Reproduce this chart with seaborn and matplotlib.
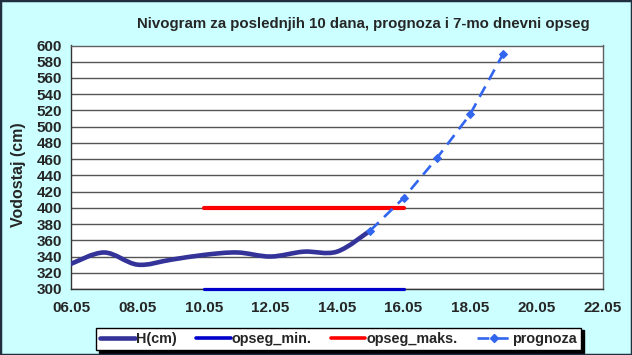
import numpy as np
import pandas as pd
import matplotlib
matplotlib.use("Agg")
import matplotlib.pyplot as plt
import matplotlib.dates as mdates
from matplotlib.path import Path
from matplotlib.patches import PathPatch, Rectangle
from matplotlib.lines import Line2D
import seaborn as sns

YEAR = 2010
h_dates = ["06.05", "07.05", "08.05", "09.05", "10.05", "11.05", "12.05", "13.05", "14.05", "15.05"]
h_values = [331, 345, 330, 336, 342, 345, 340, 346, 346, 372]

range_dates = ["10.05", "16.05"]
range_min = [300, 300]
range_max = [400, 400]

prog_dates = ["15.05", "16.05", "17.05", "18.05", "19.05"]
prog_values = [372, 412, 461, 515, 590]

title = "Nivogram za poslednjih 10 dana, prognoza i 7-mo dnevni opseg"
ylabel = "Vodostaj (cm)"
labels = ["H(cm)", "opseg_min.", "opseg_maks.", "prognoza"]


def to_dt(lst):
    return pd.to_datetime([f"{d}.{YEAR}" for d in lst], format="%d.%m.%Y")


df_h = pd.DataFrame({"date": to_dt(h_dates), "v": h_values})
df_min = pd.DataFrame({"date": to_dt(range_dates), "v": range_min})
df_max = pd.DataFrame({"date": to_dt(range_dates), "v": range_max})
df_p = pd.DataFrame({"date": to_dt(prog_dates), "v": prog_values})

sns.set_style("white")
plt.rcParams["font.family"] = ["Liberation Sans", "DejaVu Sans"]
plt.rcParams["font.weight"] = "bold"

BG = "#ccffff"
fig = plt.figure(figsize=(6.32, 3.55), dpi=100, facecolor=BG)
ax = fig.add_axes([71 / 632, 1 - 289 / 355, (603 - 71) / 632, (289 - 45.5) / 355])
ax.set_facecolor("white")

C_H = "#333399"
C_MIN = "#0000cc"
C_MAX = "#ff0000"
C_P = "#3366ee"

# H(cm) drawn as Excel-style smoothed curve (Bezier through the data points)
xs = mdates.date2num(df_h["date"])
ys = np.asarray(df_h["v"], dtype=float)
n = len(xs)
verts = [(xs[0], ys[0])]
codes = [Path.MOVETO]
for i in range(n - 1):
    xp, yp = (xs[i - 1], ys[i - 1]) if i > 0 else (xs[i], ys[i])
    xn2, yn2 = (xs[i + 2], ys[i + 2]) if i + 2 < n else (xs[i + 1], ys[i + 1])
    c1 = (xs[i] + (xs[i + 1] - xp) / 6, ys[i] + (ys[i + 1] - yp) / 6)
    c2 = (xs[i + 1] - (xn2 - xs[i]) / 6, ys[i + 1] - (yn2 - ys[i]) / 6)
    verts += [c1, c2, (xs[i + 1], ys[i + 1])]
    codes += [Path.CURVE4] * 3
patch = PathPatch(Path(verts, codes), fill=False, edgecolor=C_H, lw=3.3,
                  transform=ax.transData, zorder=3, capstyle="round", joinstyle="round")
ax.add_patch(patch)

sns.lineplot(data=df_min, x="date", y="v", ax=ax, color=C_MIN, lw=2.3, zorder=4, clip_on=False)
sns.lineplot(data=df_max, x="date", y="v", ax=ax, color=C_MAX, lw=3.0, zorder=3)
sns.lineplot(data=df_p, x="date", y="v", ax=ax, color=C_P, lw=1.9, zorder=5,
             marker="D", markersize=4.5, markeredgecolor=C_P, dashes=False)
pline = ax.lines[-1]
pline.set_linestyle((0, (4.5, 2.8)))

ax.set_xlim(to_dt(["06.05"])[0], to_dt(["22.05"])[0])
ax.set_ylim(300, 600)
ax.yaxis.set_major_locator(plt.MultipleLocator(20))
ax.xaxis.set_major_locator(mdates.DayLocator(bymonthday=range(2, 31, 2)))
ax.xaxis.set_minor_locator(mdates.DayLocator())
ax.xaxis.set_major_formatter(mdates.DateFormatter("%d.%m"))

ax.grid(axis="y", color="#555555", lw=1.0)
ax.set_axisbelow(True)
for s in ax.spines.values():
    s.set_color("#606060")
    s.set_linewidth(1.0)
ax.spines["left"].set_color("#333333")
ax.spines["bottom"].set_color("#333333")

ax.tick_params(axis="both", which="both", direction="out", color="#333333", width=1.0)
ax.tick_params(axis="x", which="major", length=5, pad=3.5, labelsize=11)
ax.tick_params(axis="x", which="minor", length=5)
ax.tick_params(axis="y", which="major", length=5, pad=1.5, labelsize=11)
for lab in ax.get_xticklabels() + ax.get_yticklabels():
    lab.set_fontweight("bold")

ax.set_xlabel("")
ax.set_ylabel(ylabel, fontsize=11.5, fontweight="bold")
ax.yaxis.set_label_coords(-0.084, 0.47)

fig.text(363 / 632, 1 - 24 / 355, title, ha="center", va="center",
         fontsize=10.8, fontweight="bold")

handles = [
    Line2D([], [], color=C_H, lw=3.3),
    Line2D([], [], color=C_MIN, lw=2.6),
    Line2D([], [], color=C_MAX, lw=2.6),
    Line2D([], [], color=C_P, lw=1.9, marker="D", markersize=4, linestyle=(0, (4.5, 2.8))),
]
leg = fig.legend(handles, labels, loc="center", ncol=4,
                 bbox_to_anchor=(338.5 / 632, 1 - 339 / 355), bbox_transform=fig.transFigure,
                 frameon=True, fancybox=False, shadow={"color": "black", "alpha": 1.0},
                 edgecolor="black", facecolor="white", framealpha=1,
                 prop={"size": 10.4, "weight": "bold"},
                 handlelength=2.4, handletextpad=0.05, columnspacing=1.35,
                 borderpad=0.3, borderaxespad=0)
leg.get_frame().set_linewidth(1.0)

fig.patches.append(Rectangle((0, 0), 1, 1, transform=fig.transFigure, fill=False,
                             edgecolor="#1f2f3f", lw=2.5, zorder=10))

fig.savefig("out.png", dpi=100, facecolor=BG)
